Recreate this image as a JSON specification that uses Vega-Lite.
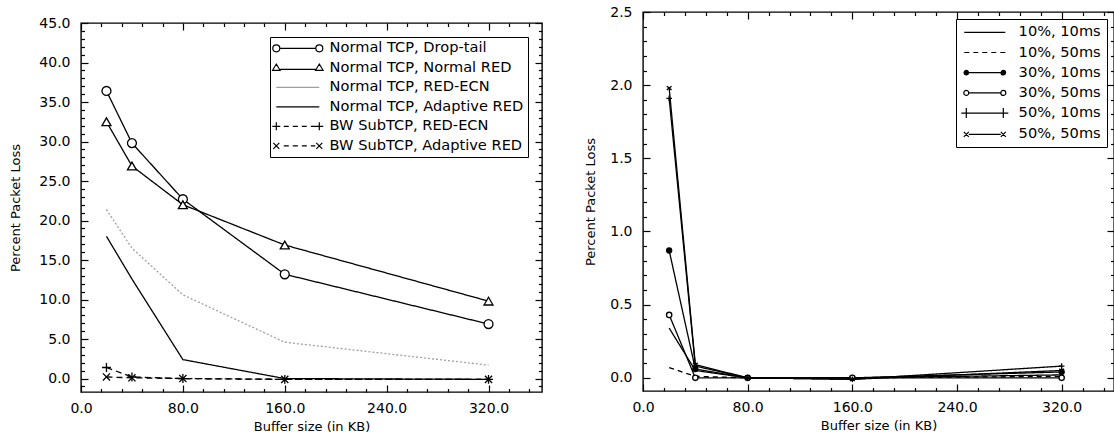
{
  "$schema": "https://vega.github.io/schema/vega-lite/v6.json",
  "padding": {"left": 9, "top": 4, "right": 0, "bottom": 0},
  "background": "white",
  "spacing": 40,
  "config": {
    "font": "DejaVu Sans",
    "view": {"stroke": "black", "strokeWidth": 1.4},
    "axis": {
      "labelFont": "DejaVu Sans", "labelFontSize": 14, "labelColor": "black",
      "titleFont": "DejaVu Sans", "titleFontSize": 13, "titleFontWeight": "normal", "titleColor": "black",
      "grid": false, "domain": false, "tickColor": "black", "tickWidth": 1.2,
      "labelOverlap": false, "labelFlush": false
    },
    "legend": {
      "labelFont": "DejaVu Sans", "labelFontSize": 14.6, "labelColor": "black", "labelLimit": 400
    }
  },
  "datasets": {
    "left": [
      {"series": "Normal TCP, Drop-tail", "x": 20, "y": 36.4},
      {"series": "Normal TCP, Drop-tail", "x": 40, "y": 29.8},
      {"series": "Normal TCP, Drop-tail", "x": 80, "y": 22.7},
      {"series": "Normal TCP, Drop-tail", "x": 160, "y": 13.2},
      {"series": "Normal TCP, Drop-tail", "x": 320, "y": 6.9},
      {"series": "Normal TCP, Normal RED", "x": 20, "y": 32.5},
      {"series": "Normal TCP, Normal RED", "x": 40, "y": 26.9},
      {"series": "Normal TCP, Normal RED", "x": 80, "y": 22.0},
      {"series": "Normal TCP, Normal RED", "x": 160, "y": 16.9},
      {"series": "Normal TCP, Normal RED", "x": 320, "y": 9.8},
      {"series": "Normal TCP, RED-ECN", "x": 20, "y": 21.4},
      {"series": "Normal TCP, RED-ECN", "x": 40, "y": 16.5},
      {"series": "Normal TCP, RED-ECN", "x": 80, "y": 10.6},
      {"series": "Normal TCP, RED-ECN", "x": 160, "y": 4.6},
      {"series": "Normal TCP, RED-ECN", "x": 320, "y": 1.7},
      {"series": "Normal TCP, Adaptive RED", "x": 20, "y": 18.0},
      {"series": "Normal TCP, Adaptive RED", "x": 40, "y": 12.6},
      {"series": "Normal TCP, Adaptive RED", "x": 80, "y": 2.4},
      {"series": "Normal TCP, Adaptive RED", "x": 160, "y": 0.0},
      {"series": "Normal TCP, Adaptive RED", "x": 320, "y": -0.1},
      {"series": "BW SubTCP, RED-ECN", "x": 20, "y": 1.4},
      {"series": "BW SubTCP, RED-ECN", "x": 40, "y": 0.2},
      {"series": "BW SubTCP, RED-ECN", "x": 80, "y": 0.0},
      {"series": "BW SubTCP, RED-ECN", "x": 160, "y": -0.1},
      {"series": "BW SubTCP, RED-ECN", "x": 320, "y": -0.1},
      {"series": "BW SubTCP, Adaptive RED", "x": 20, "y": 0.2},
      {"series": "BW SubTCP, Adaptive RED", "x": 40, "y": 0.1},
      {"series": "BW SubTCP, Adaptive RED", "x": 80, "y": 0.0},
      {"series": "BW SubTCP, Adaptive RED", "x": 160, "y": -0.1},
      {"series": "BW SubTCP, Adaptive RED", "x": 320, "y": -0.1}
    ],
    "right": [
      {"series": "10%, 10ms", "x": 20, "y": 0.34},
      {"series": "10%, 10ms", "x": 40, "y": 0.05},
      {"series": "10%, 10ms", "x": 80, "y": 0.0},
      {"series": "10%, 10ms", "x": 160, "y": 0.0},
      {"series": "10%, 10ms", "x": 320, "y": 0.02},
      {"series": "10%, 50ms", "x": 20, "y": 0.07},
      {"series": "10%, 50ms", "x": 40, "y": 0.01},
      {"series": "10%, 50ms", "x": 80, "y": 0.0},
      {"series": "10%, 50ms", "x": 160, "y": 0.0},
      {"series": "10%, 50ms", "x": 320, "y": 0.01},
      {"series": "30%, 10ms", "x": 20, "y": 0.87},
      {"series": "30%, 10ms", "x": 40, "y": 0.06},
      {"series": "30%, 10ms", "x": 80, "y": 0.0},
      {"series": "30%, 10ms", "x": 160, "y": 0.0},
      {"series": "30%, 10ms", "x": 320, "y": 0.04},
      {"series": "30%, 50ms", "x": 20, "y": 0.43},
      {"series": "30%, 50ms", "x": 40, "y": 0.0},
      {"series": "30%, 50ms", "x": 80, "y": 0.0},
      {"series": "30%, 50ms", "x": 160, "y": 0.0},
      {"series": "30%, 50ms", "x": 320, "y": 0.0},
      {"series": "50%, 10ms", "x": 20, "y": 1.91},
      {"series": "50%, 10ms", "x": 40, "y": 0.08},
      {"series": "50%, 10ms", "x": 80, "y": 0.0},
      {"series": "50%, 10ms", "x": 160, "y": -0.01},
      {"series": "50%, 10ms", "x": 320, "y": 0.08},
      {"series": "50%, 50ms", "x": 20, "y": 1.98},
      {"series": "50%, 50ms", "x": 40, "y": 0.09},
      {"series": "50%, 50ms", "x": 80, "y": 0.0},
      {"series": "50%, 50ms", "x": 160, "y": -0.01},
      {"series": "50%, 50ms", "x": 320, "y": 0.05}
    ],
    "empty": []
  },
  "hconcat": [
    {
      "spacing": 2,
      "vconcat": [
        {
          "width": 461,
          "height": 1,
          "data": {"name": "empty"},
          "view": {"stroke": null},
          "mark": {"type": "point"},
          "encoding": {}
        },
        {
          "width": 461,
          "height": 369,
          "data": {"name": "left"},
          "layer": [
            {
              "mark": {"type": "line", "strokeWidth": 1.3},
              "encoding": {
                "x": {"field": "x", "type": "quantitative",
                  "scale": {"domain": [0, 362], "nice": false, "zero": false},
                  "axis": {"orient": "bottom", "title": "Buffer size (in KB)",
                    "values": [0,16,32,48,64,80,96,112,128,144,160,176,192,208,224,240,256,272,288,304,320,336,352],
                    "labelExpr": "datum.value % 80 === 0 ? format(datum.value, '.1f') : ''",
                    "tickSize": {"condition": {"test": "datum.value % 80 === 0", "value": -7}, "value": -3.5},
                    "labelPadding": 16, "titlePadding": 2}},
                "y": {"field": "y", "type": "quantitative",
                  "scale": {"domain": [-1.7, 45], "nice": false, "zero": false},
                  "axis": {"orient": "left", "title": "Percent Packet Loss",
                    "values": [-1,0,1,2,3,4,5,6,7,8,9,10,11,12,13,14,15,16,17,18,19,20,21,22,23,24,25,26,27,28,29,30,31,32,33,34,35,36,37,38,39,40,41,42,43,44,45],
                    "labelExpr": "datum.value % 5 === 0 ? format(datum.value, '.1f') : ''",
                    "tickSize": {"condition": {"test": "datum.value % 5 === 0", "value": -7}, "value": -3.5},
                    "labelPadding": 18, "titlePadding": 16}},
                "detail": {"field": "series"},
                "stroke": {"field": "series", "type": "nominal", "legend": null,
                  "scale": {"domain": ["Normal TCP, Drop-tail", "Normal TCP, Normal RED", "Normal TCP, RED-ECN", "Normal TCP, Adaptive RED", "BW SubTCP, RED-ECN", "BW SubTCP, Adaptive RED"],
                    "range": ["black", "black", "#a0a0a0", "black", "black", "black"]}},
                "strokeDash": {"field": "series", "type": "nominal", "legend": null,
                  "scale": {"domain": ["Normal TCP, Drop-tail", "Normal TCP, Normal RED", "Normal TCP, RED-ECN", "Normal TCP, Adaptive RED", "BW SubTCP, RED-ECN", "BW SubTCP, Adaptive RED"],
                    "range": [[1, 0], [1, 0], [2, 2], [1, 0], [6, 4], [6, 4]]}}
              }
            },
            {
              "transform": [{"filter": {"field": "series", "oneOf": ["Normal TCP, Drop-tail", "Normal TCP, Normal RED", "BW SubTCP, RED-ECN", "BW SubTCP, Adaptive RED"]}}],
              "mark": {"type": "point", "filled": true, "fill": "white", "stroke": "black", "strokeWidth": 1.3, "opacity": 1, "size": 80},
              "encoding": {
                "x": {"field": "x", "type": "quantitative",
                  "axis": {"orient": "top", "title": null, "labels": false,
                    "values": [0,16,32,48,64,80,96,112,128,144,160,176,192,208,224,240,256,272,288,304,320,336,352],
                    "tickSize": {"condition": {"test": "datum.value % 80 === 0", "value": -7}, "value": -3.5}}},
                "y": {"field": "y", "type": "quantitative",
                  "axis": {"orient": "right", "title": null, "labels": false,
                    "values": [-1,0,1,2,3,4,5,6,7,8,9,10,11,12,13,14,15,16,17,18,19,20,21,22,23,24,25,26,27,28,29,30,31,32,33,34,35,36,37,38,39,40,41,42,43,44,45],
                    "tickSize": {"condition": {"test": "datum.value % 5 === 0", "value": -7}, "value": -3.5}}},
                "shape": {"field": "series", "type": "nominal", "legend": null,
                  "scale": {"domain": ["Normal TCP, Drop-tail", "Normal TCP, Normal RED", "BW SubTCP, RED-ECN", "BW SubTCP, Adaptive RED"],
                    "range": ["circle", "triangle-up", "M-1,0L1,0M0,-1L0,1", "M-0.8,-0.8L0.8,0.8M-0.8,0.8L0.8,-0.8"]}}
              }
            },
            {
              "transform": [{"filter": "datum.x < -1000"}],
              "mark": {"type": "point", "filled": true, "strokeWidth": 1.2, "opacity": 1},
              "encoding": {
                "x": {"field": "x", "type": "quantitative", "axis": null},
                "y": {"field": "y", "type": "quantitative", "axis": null},
                "shape": {"field": "series", "type": "nominal",
                  "scale": {"domain": ["Normal TCP, Drop-tail", "Normal TCP, Normal RED", "Normal TCP, RED-ECN", "Normal TCP, Adaptive RED", "BW SubTCP, RED-ECN", "BW SubTCP, Adaptive RED"],
                    "range": [
                      "M-0.3,0A0.7,0.7 0 1 1 -1.7,0A0.7,0.7 0 1 1 -0.3,0M-0.3,0L6.9,0M8.3,0A0.7,0.7 0 1 1 6.9,0A0.7,0.7 0 1 1 8.3,0",
                      "M-1,-0.75L-0.25,0.5L-1.75,0.5ZM-0.4,0.3L7,0.3M7.6,-0.75L8.35,0.5L6.85,0.5Z",
                      "M-1,0L7.6,0",
                      "M-1,0L7.6,0",
                      "M-1.8,0L-0.2,0M-1,-0.8L-1,0.8M0.5,0L1.5,0M2.3,0L3.3,0M4.1,0L5.1,0M5.9,0L6.8,0M6.8,0L8.4,0M7.6,-0.8L7.6,0.8",
                      "M-1.6,-0.6L-0.4,0.6M-1.6,0.6L-0.4,-0.6M0.5,0L1.5,0M2.3,0L3.3,0M4.1,0L5.1,0M5.9,0L6.8,0M7,-0.6L8.2,0.6M7,0.6L8.2,-0.6"
                    ]},
                  "legend": {"title": null, "orient": "top-right", "offset": 14, "strokeColor": "black", "fillColor": "white",
                    "padding": 4, "symbolSize": 100, "symbolStrokeWidth": 1.2, "labelOffset": 41, "rowPadding": 4.5}},
                "stroke": {"field": "series", "type": "nominal",
                  "scale": {"domain": ["Normal TCP, Drop-tail", "Normal TCP, Normal RED", "Normal TCP, RED-ECN", "Normal TCP, Adaptive RED", "BW SubTCP, RED-ECN", "BW SubTCP, Adaptive RED"],
                    "range": ["black", "black", "#a0a0a0", "black", "black", "black"]},
                  "legend": {"title": null, "orient": "top-right", "offset": 14, "strokeColor": "black", "fillColor": "white",
                    "padding": 4, "symbolSize": 100, "symbolStrokeWidth": 1.2, "labelOffset": 41, "rowPadding": 4.5}},
                "fill": {"field": "series", "type": "nominal",
                  "scale": {"domain": ["Normal TCP, Drop-tail", "Normal TCP, Normal RED", "Normal TCP, RED-ECN", "Normal TCP, Adaptive RED", "BW SubTCP, RED-ECN", "BW SubTCP, Adaptive RED"],
                    "range": ["white", "white", "white", "white", "white", "white"]},
                  "legend": {"title": null, "orient": "top-right", "offset": 14, "strokeColor": "black", "fillColor": "white",
                    "padding": 4, "symbolSize": 100, "symbolStrokeWidth": 1.2, "labelOffset": 41, "rowPadding": 4.5}}
              }
            }
          ],
          "resolve": {
            "scale": {"shape": "independent", "stroke": "independent", "fill": "independent", "strokeDash": "independent"},
            "axis": {"x": "independent", "y": "independent"}
          }
        }
      ]
    },
    {
      "width": 471,
      "height": 379,
      "data": {"name": "right"},
      "layer": [
        {
          "mark": {"type": "line", "strokeWidth": 1.3, "color": "black"},
          "encoding": {
            "x": {"field": "x", "type": "quantitative",
              "scale": {"domain": [0, 360], "nice": false, "zero": false},
              "axis": {"orient": "bottom", "title": "Buffer size (in KB)",
                "values": [0,16,32,48,64,80,96,112,128,144,160,176,192,208,224,240,256,272,288,304,320,336,352],
                "labelExpr": "datum.value % 80 === 0 ? format(datum.value, '.1f') : ''",
                "tickSize": {"condition": {"test": "datum.value % 80 === 0", "value": -7}, "value": -3.5},
                "labelPadding": 16, "titlePadding": 2}},
            "y": {"field": "y", "type": "quantitative",
              "scale": {"domain": [-0.09, 2.5], "nice": false, "zero": false},
              "axis": {"orient": "left", "title": "Percent Packet Loss",
                "values": [0,0.1,0.2,0.3,0.4,0.5,0.6,0.7,0.8,0.9,1,1.1,1.2,1.3,1.4,1.5,1.6,1.7,1.8,1.9,2,2.1,2.2,2.3,2.4,2.5],
                "labelExpr": "round(datum.value * 10) % 5 === 0 ? format(datum.value, '.1f') : ''",
                "tickSize": {"condition": {"test": "round(datum.value * 10) % 5 === 0", "value": -7}, "value": -3.5},
                "labelPadding": 18, "titlePadding": 12}},
            "detail": {"field": "series"},
            "strokeDash": {"field": "series", "type": "nominal", "legend": null,
              "scale": {"domain": ["10%, 10ms", "10%, 50ms", "30%, 10ms", "30%, 50ms", "50%, 10ms", "50%, 50ms"],
                "range": [[1, 0], [5, 4], [1, 0], [1, 0], [1, 0], [1, 0]]}}
          }
        },
        {
          "transform": [{"filter": {"field": "series", "oneOf": ["30%, 10ms", "30%, 50ms", "50%, 10ms", "50%, 50ms"]}}],
          "mark": {"type": "point", "filled": true, "stroke": "black", "strokeWidth": 1.3, "opacity": 1},
          "encoding": {
            "x": {"field": "x", "type": "quantitative",
              "axis": {"orient": "top", "title": null, "labels": false,
                "values": [0,16,32,48,64,80,96,112,128,144,160,176,192,208,224,240,256,272,288,304,320,336,352],
                "tickSize": {"condition": {"test": "datum.value % 80 === 0", "value": -7}, "value": -3.5}}},
            "y": {"field": "y", "type": "quantitative",
              "axis": {"orient": "right", "title": null, "labels": false,
                "values": [0,0.1,0.2,0.3,0.4,0.5,0.6,0.7,0.8,0.9,1,1.1,1.2,1.3,1.4,1.5,1.6,1.7,1.8,1.9,2,2.1,2.2,2.3,2.4,2.5],
                "tickSize": {"condition": {"test": "round(datum.value * 10) % 5 === 0", "value": -7}, "value": -3.5}}},
            "shape": {"field": "series", "type": "nominal", "legend": null,
              "scale": {"domain": ["30%, 10ms", "30%, 50ms", "50%, 10ms", "50%, 50ms"],
                "range": ["circle", "circle", "M-1,0L1,0M0,-1L0,1", "M-0.8,-0.6L0.8,0.6M-0.8,0.6L0.8,-0.6"]}},
            "fill": {"field": "series", "type": "nominal", "legend": null,
              "scale": {"domain": ["30%, 10ms", "30%, 50ms", "50%, 10ms", "50%, 50ms"],
                "range": ["black", "white", "white", "white"]}},
            "size": {"field": "series", "type": "nominal", "legend": null,
              "scale": {"domain": ["30%, 10ms", "30%, 50ms", "50%, 10ms", "50%, 50ms"],
                "range": [25, 35, 150, 100]}}
          }
        },
        {
          "transform": [{"filter": "datum.x < -1000"}],
          "mark": {"type": "point", "filled": true, "stroke": "black", "strokeWidth": 1.2, "opacity": 1},
          "encoding": {
            "x": {"field": "x", "type": "quantitative", "axis": null},
            "y": {"field": "y", "type": "quantitative", "axis": null},
            "shape": {"field": "series", "type": "nominal",
              "scale": {"domain": ["10%, 10ms", "10%, 50ms", "30%, 10ms", "30%, 50ms", "50%, 10ms", "50%, 50ms"],
                "range": [
                  "M-1,0L7.2,0",
                  "M-1,0L0,0M0.8,0L1.8,0M2.6,0L3.6,0M4.4,0L5.4,0M6.2,0L7.2,0",
                  "M-0.15,0A0.45,0.45 0 1 1 -1.05,0A0.45,0.45 0 1 1 -0.15,0M-0.15,0L6.35,0M7.25,0A0.45,0.45 0 1 1 6.35,0A0.45,0.45 0 1 1 7.25,0",
                  "M-0.1,0A0.5,0.5 0 1 1 -1.1,0A0.5,0.5 0 1 1 -0.1,0M-0.1,0L6.3,0M7.3,0A0.5,0.5 0 1 1 6.3,0A0.5,0.5 0 1 1 7.3,0",
                  "M-1.6,0L7.8,0M-0.6,-1L-0.6,1M6.8,-1L6.8,1",
                  "M-1.1,-0.5L-0.1,0.5M-1.1,0.5L-0.1,-0.5M-0.1,0L6.3,0M6.3,-0.5L7.3,0.5M6.3,0.5L7.3,-0.5"
                ]},
              "legend": {"title": null, "orient": "top-right", "offset": 7, "strokeColor": "black", "fillColor": "white",
                "padding": 6, "symbolSize": 100, "symbolStrokeWidth": 1.2, "labelOffset": 42, "rowPadding": 5.2}},
            "fill": {"field": "series", "type": "nominal",
              "scale": {"domain": ["10%, 10ms", "10%, 50ms", "30%, 10ms", "30%, 50ms", "50%, 10ms", "50%, 50ms"],
                "range": ["white", "white", "black", "white", "white", "white"]},
              "legend": {"title": null, "orient": "top-right", "offset": 7, "strokeColor": "black", "fillColor": "white",
                "padding": 6, "symbolSize": 100, "symbolStrokeWidth": 1.2, "labelOffset": 42, "rowPadding": 5.2}}
          }
        }
      ],
      "resolve": {
        "scale": {"shape": "independent", "fill": "independent", "strokeDash": "independent", "size": "independent"},
        "axis": {"x": "independent", "y": "independent"}
      }
    }
  ]
}
